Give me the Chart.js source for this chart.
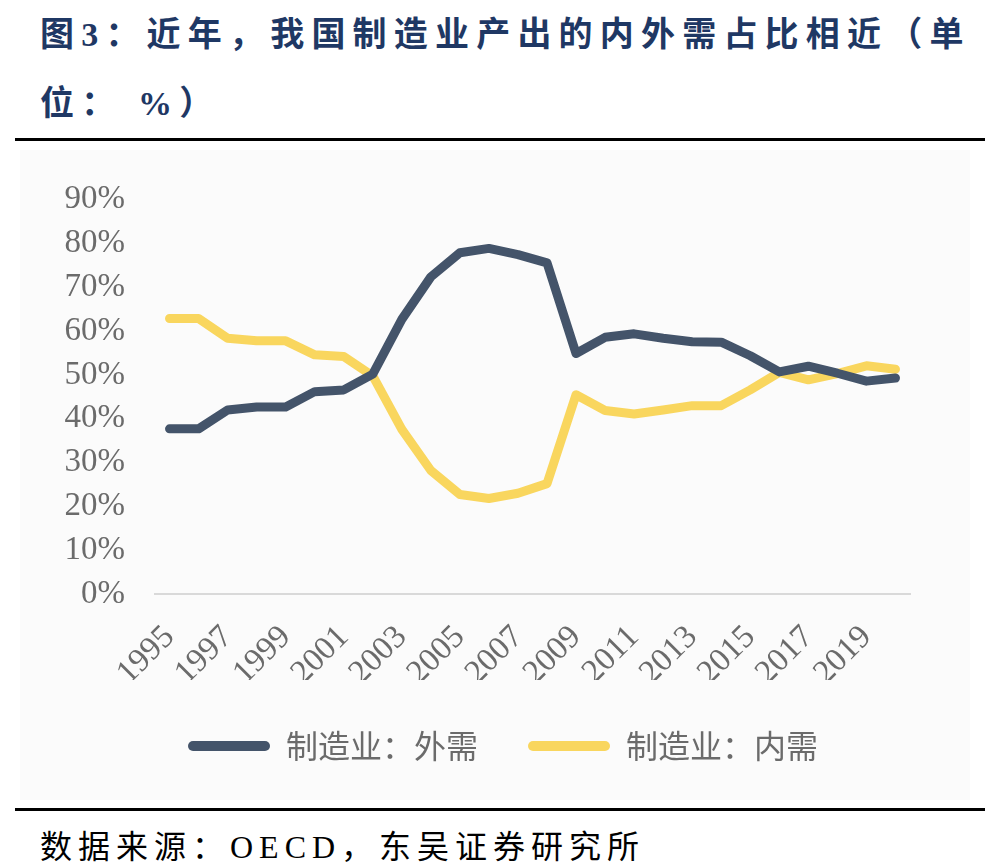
<!DOCTYPE html>
<html>
<head>
<meta charset="utf-8">
<script src="https://cdn.jsdelivr.net/npm/chart.js@4.4.0/dist/chart.umd.min.js"></script>
<style>
  body { margin: 0; width: 990px; height: 868px; background: #fff; position: relative; overflow: hidden; }
  #title {
    position: absolute; left: 40px; top: 0px; width: 950px;
    font-family: "Liberation Serif", "Noto Sans CJK SC", serif; font-weight: bold;
    font-size: 34px; line-height: 69px; letter-spacing: 7.2px; color: #1F3864;
  }
  #rule1 { position: absolute; left: 15px; top: 138px; width: 970px; height: 3px; background: #000; }
  #chartBox { position: absolute; left: 20px; top: 150px; width: 950px; height: 650px; background: #FBFBFB; }
  #rule2 { position: absolute; left: 15px; top: 808px; width: 970px; height: 3px; background: #000; }
  #source {
    position: absolute; left: 40px; top: 821px;
    font-family: "Liberation Serif", "Noto Sans CJK SC", serif;
    font-size: 32px; letter-spacing: 6px; color: #000;
  }
</style>
</head>
<body>
<div id="title">图3：近年，我国制造业产出的内外需占比相近（单<br>位： %）</div>
<div id="rule1"></div>
<div id="chartBox"><canvas id="lineChart"></canvas></div>
<div id="rule2"></div>
<div id="source">数据来源：OECD，东吴证券研究所</div>
<script>
  // 年份
  const years = ['1995', '1996', '1997', '1998', '1999', '2000', '2001', '2002', '2003', '2004',
                 '2005', '2006', '2007', '2008', '2009', '2010', '2011', '2012', '2013', '2014',
                 '2015', '2016', '2017', '2018', '2019', '2020'];
  // 制造业：外需 (%)
  const waixu = [37.7, 37.7, 42.0, 42.7, 42.7, 46.2, 46.6, 50.2, 62.7, 72.4,
                 77.9, 78.9, 77.5, 75.6, 54.9, 58.6, 59.4, 58.4, 57.6, 57.5,
                 54.4, 50.7, 52.0, 50.4, 48.6, 49.3];
  // 制造业：内需 (%)
  const neixu = [62.9, 62.9, 58.4, 57.8, 57.8, 54.6, 54.2, 49.8, 37.6, 28.2,
                 22.7, 21.8, 23.0, 25.2, 45.5, 41.9, 41.1, 42.0, 43.0, 43.0,
                 46.6, 50.6, 48.9, 50.3, 52.1, 51.3];
  const seriesNames = ['制造业：外需', '制造业：内需'];
  const yMin = 0, yMax = 90, yStep = 10;

  const gray = '#6B6B6B';
  const ctx = document.getElementById('lineChart').getContext('2d');

  const lineChart = new Chart(ctx, {
    type: 'line',
    data: {
      labels: years,
      datasets: [{
        label: seriesNames[0],
        data: waixu,
        borderColor: '#44546A',
        backgroundColor: '#44546A',
        borderWidth: 9,
        pointRadius: 0,
        tension: 0,
        borderCapStyle: 'round',
        borderJoinStyle: 'round'
      }, {
        label: seriesNames[1],
        data: neixu,
        borderColor: '#F9D65E',
        backgroundColor: '#F9D65E',
        borderWidth: 9,
        pointRadius: 0,
        tension: 0,
        borderCapStyle: 'round',
        borderJoinStyle: 'round'
      }]
    },
    options: {
      responsive: true,
      maintainAspectRatio: false,
      animation: false,
      layout: { padding: { left: 16, right: 0, top: 46, bottom: 28 } },
      plugins: {
        tooltip: { enabled: false },
        legend: {
          position: 'bottom',
          labels: {
            boxWidth: 82,
            boxHeight: 10,
            padding: 50,
            color: gray,
            useBorderRadius: true,
            borderRadius: 5,
            font: { family: '"Noto Sans CJK SC", sans-serif', size: 32 },
            generateLabels: function (chart) {
              const items = Chart.defaults.plugins.legend.labels.generateLabels(chart);
              items.forEach(function (it) { it.lineWidth = 0; });
              return items;
            }
          }
        }
      },
      scales: {
        x: {
          offset: true,
          grid: { display: false, drawTicks: false },
          border: { color: '#D9D9D9', width: 2 },
          afterFit: function (scale) { scale.height = 86; },
          ticks: {
            autoSkip: false,
            maxRotation: 45,
            minRotation: 45,
            padding: 24,
            color: gray,
            font: { family: '"Liberation Serif", serif', size: 33 },
            callback: function (val, i) { return i % 2 === 0 ? years[i] : ''; }
          }
        },
        y: {
          min: yMin,
          max: yMax,
          grid: { display: false, drawTicks: false },
          border: { display: false },
          afterFit: function (scale) { scale.width = 119; },
          ticks: {
            stepSize: yStep,
            padding: 30,
            color: gray,
            font: { family: '"Liberation Serif", serif', size: 33 },
            callback: function (v) { return v + '%'; }
          }
        },
        // 右侧留白
        yRight: {
          position: 'right',
          grid: { display: false, drawTicks: false },
          border: { display: false },
          ticks: { display: false },
          afterFit: function (scale) { scale.width = 60; }
        }
      }
    }
  });
</script>
</body>
</html>
